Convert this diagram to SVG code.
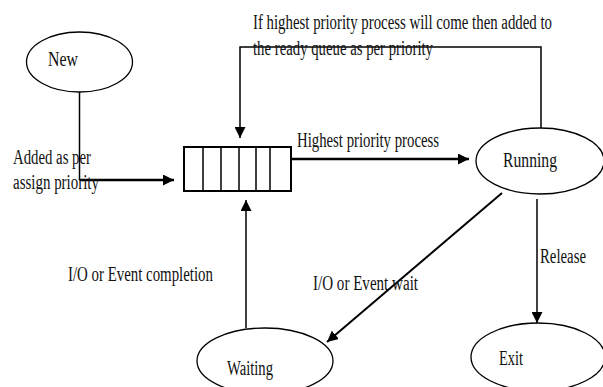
<svg xmlns="http://www.w3.org/2000/svg" width="603" height="387" viewBox="0 0 603 387">
  <style>
    .state { fill: #ffffff; stroke: #000000; stroke-width: 1.3; }
    .queue { fill: #ffffff; stroke: #000000; stroke-width: 2; }
    .cell { stroke: #000000; stroke-width: 1.5; }
    .wire { fill: none; stroke: #000000; stroke-width: 1.5; }
    .wire.bold { stroke-width: 2.5; }
    .wire.mid { stroke-width: 2; }
    text { font-family: "Liberation Serif", "Times New Roman", serif; font-size: 20px; fill: #111111; }
  </style>
  <defs>
    <marker id="head" viewBox="0 0 10 10" refX="10" refY="5" markerWidth="11" markerHeight="11" markerUnits="userSpaceOnUse" orient="auto">
      <path d="M0,0 L10,5 L0,10 z" fill="#000000"/>
    </marker>
  </defs>

  <rect width="603" height="387" fill="#ffffff"/>

  <!-- connectors -->
  <g id="connectors">
    <!-- New to the ready queue -->
    <path class="wire" d="M79.5,92 V180"/>
    <path class="wire bold" d="M79.5,180 H174" marker-end="url(#head)"/>
    <!-- ready queue to Running -->
    <path class="wire bold" d="M291,159 H469" marker-end="url(#head)"/>
    <!-- preemption loop from Running back to the queue -->
    <path class="wire" d="M541,128 V47 H240 V138" marker-end="url(#head)"/>
    <!-- Running to Waiting -->
    <path class="wire mid" d="M502,193 L327,342" marker-end="url(#head)"/>
    <!-- Running to Exit -->
    <path class="wire" d="M537,199 V323" marker-end="url(#head)"/>
    <!-- Waiting back to the queue -->
    <path class="wire" d="M246,328 V200" marker-end="url(#head)"/>
  </g>

  <!-- connector labels -->
  <g id="labels">
    <text x="13" y="164" textLength="78" lengthAdjust="spacingAndGlyphs">Added as per</text>
    <text x="13" y="189" textLength="86" lengthAdjust="spacingAndGlyphs">assign priority</text>
    <text x="253" y="29" textLength="299" lengthAdjust="spacingAndGlyphs">If highest priority process will come then added to</text>
    <text x="253" y="55" textLength="180" lengthAdjust="spacingAndGlyphs">the ready queue as per priority</text>
    <text x="297" y="147" textLength="142" lengthAdjust="spacingAndGlyphs">Highest priority process</text>
    <text x="540" y="263" textLength="46" lengthAdjust="spacingAndGlyphs">Release</text>
    <text x="313" y="290" textLength="105" lengthAdjust="spacingAndGlyphs">I/O or Event wait</text>
    <text x="68" y="281" textLength="145" lengthAdjust="spacingAndGlyphs">I/O or Event completion</text>
  </g>

  <g id="new">
    <ellipse class="state" cx="79.5" cy="62" rx="53" ry="30"/>
    <text x="48" y="66" textLength="30" lengthAdjust="spacingAndGlyphs">New</text>
  </g>

  <g id="ready-queue">
    <rect class="queue" x="184" y="147" width="107" height="44"/>
    <path class="cell" d="M203,147 V191 M221,147 V191 M239,147 V191 M256,147 V191 M270,147 V191"/>
  </g>

  <g id="running">
    <ellipse class="state" cx="540" cy="161" rx="64" ry="33"/>
    <text x="503" y="167" textLength="54" lengthAdjust="spacingAndGlyphs">Running</text>
  </g>

  <g id="waiting">
    <ellipse class="state" cx="265" cy="361" rx="68" ry="33"/>
    <text x="227" y="375" textLength="46" lengthAdjust="spacingAndGlyphs">Waiting</text>
  </g>

  <g id="exit">
    <ellipse class="state" cx="538" cy="357" rx="67" ry="34"/>
    <text x="499" y="365" textLength="24" lengthAdjust="spacingAndGlyphs">Exit</text>
  </g>
</svg>
